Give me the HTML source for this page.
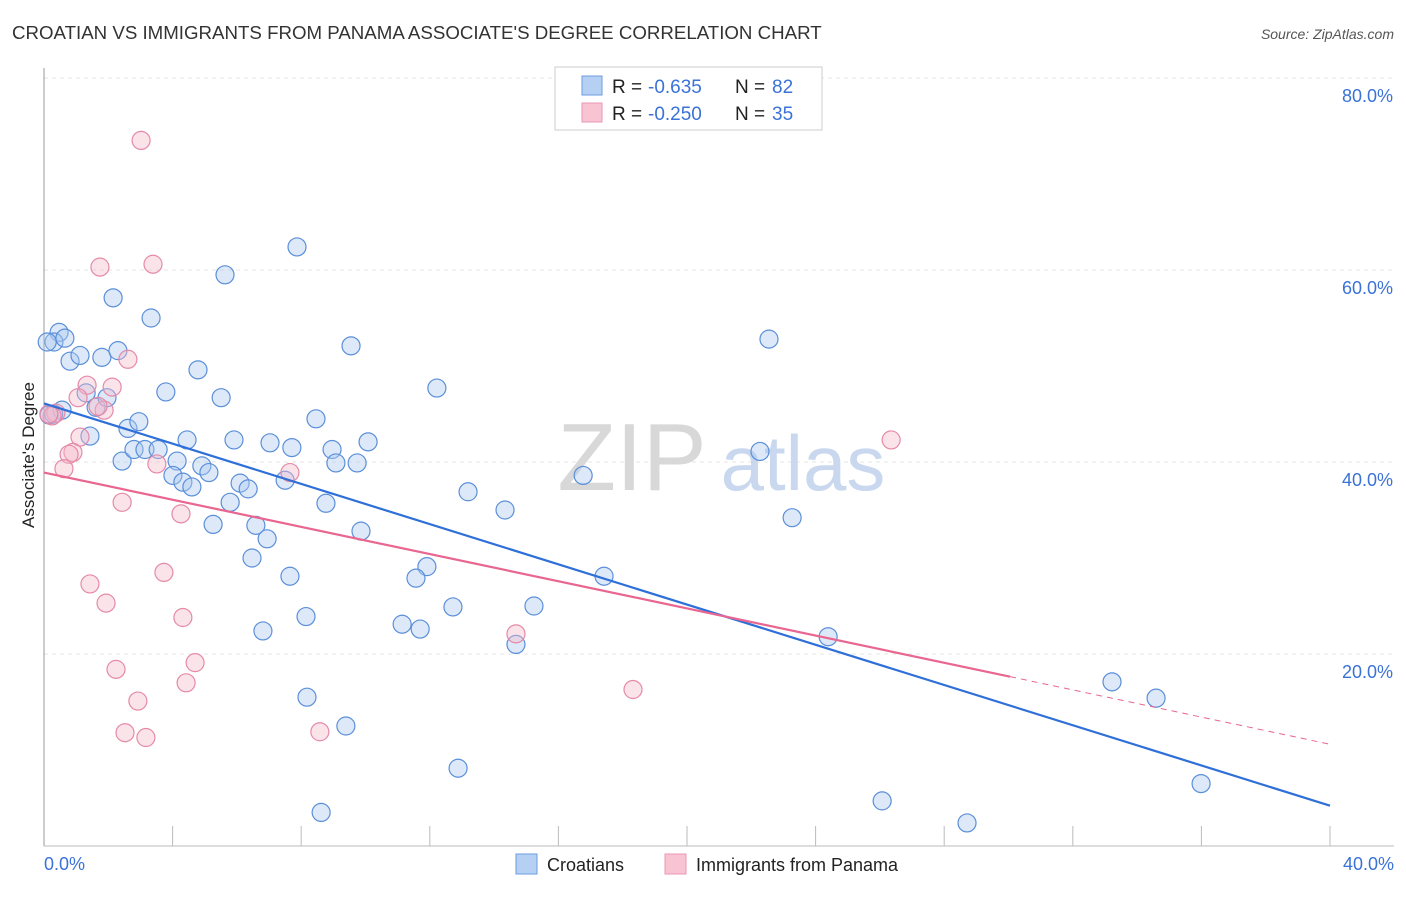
<!DOCTYPE html>
<html><head><meta charset="utf-8"><style>
body{margin:0;background:#fff;font-family:"Liberation Sans",sans-serif;}
svg text{font-family:"Liberation Sans",sans-serif;}
</style></head><body>
<svg id="chart" width="1406" height="892" xmlns="http://www.w3.org/2000/svg">
<text x="12" y="39" font-size="18.7" fill="#333">CROATIAN VS IMMIGRANTS FROM PANAMA ASSOCIATE'S DEGREE CORRELATION CHART</text>
<text x="1394" y="39" font-size="14" fill="#555" text-anchor="end" font-style="italic">Source: ZipAtlas.com</text>
<g id="grid"></g>
<text x="632" y="490" font-size="96" fill="#d8d8d8" text-anchor="middle" font-family="Liberation Serif">ZIP</text>
<text x="803" y="490" font-size="78" fill="#c9d8ee" text-anchor="middle">atlas</text>
<line x1="44" y1="68" x2="44" y2="846" stroke="#999"/>
<line x1="44" y1="846" x2="1394" y2="846" stroke="#bbb"/>
<g id="marks"></g>
<text transform="translate(34,455) rotate(-90)" font-size="17" fill="#222" text-anchor="middle">Associate's Degree</text>
<text x="44" y="870" font-size="18" fill="#3a72d8">0.0%</text>
<text x="1394" y="870" font-size="18" fill="#3a72d8" text-anchor="end">40.0%</text>
<g>
<rect x="555" y="67" width="267" height="63" fill="#fff" stroke="#ccc"/>
<rect x="582" y="76" width="20" height="19" fill="#b6d0f4" stroke="#6b9be0"/>
<rect x="582" y="103" width="20" height="19" fill="#f8c4d4" stroke="#ea97b2"/>
<text x="612" y="93" font-size="19" fill="#222">R = <tspan x="648" fill="#3a72d8">-0.635</tspan><tspan x="735">N = </tspan><tspan x="772" fill="#3a72d8">82</tspan></text>
<text x="612" y="120" font-size="19" fill="#222">R = <tspan x="648" fill="#3a72d8">-0.250</tspan><tspan x="735">N = </tspan><tspan x="772" fill="#3a72d8">35</tspan></text>
</g>
<g>
<rect x="516" y="854" width="21" height="20" fill="#b6d0f4" stroke="#6b9be0"/>
<text x="547" y="871" font-size="18" fill="#222">Croatians</text>
<rect x="665" y="854" width="21" height="20" fill="#f8c4d4" stroke="#ea97b2"/>
<text x="696" y="871" font-size="18" fill="#222">Immigrants from Panama</text>
</g>
</svg>
<script>
const blueX=[0.47,0.31,0.65,0.81,1.12,1.80,2.30,2.15,3.33,1.31,1.62,1.96,1.43,2.61,2.95,2.43,2.80,3.14,3.55,3.79,4.45,4.79,5.51,4.14,4.01,4.32,4.60,4.91,5.13,5.91,5.63,7.87,6.10,6.35,5.79,5.26,6.59,6.94,6.47,7.03,7.71,7.50,8.46,8.96,9.08,9.74,10.08,9.55,8.77,9.86,7.65,8.15,6.81,8.18,9.39,8.62,12.22,13.19,14.34,11.91,11.57,11.14,11.70,12.72,12.88,15.24,14.68,16.77,17.42,22.55,22.27,23.27,24.39,26.07,28.71,33.22,34.59,35.99,0.16,0.56,0.1,0.3];
const blueY=[53.5,52.5,52.9,50.5,51.1,50.9,51.6,57.1,55.0,47.2,45.7,46.7,42.7,43.5,44.2,40.1,41.3,41.3,41.3,47.3,42.3,49.6,46.7,40.1,38.6,37.9,37.4,39.6,38.9,42.3,59.5,62.4,37.8,37.2,35.8,33.5,33.4,32.0,30.0,42.0,41.5,38.1,44.5,41.3,39.9,39.9,42.1,52.1,35.7,32.8,28.1,23.9,22.4,15.5,12.5,3.5,47.7,36.9,35.0,29.1,27.9,23.1,22.6,24.9,8.1,25.0,21.0,38.6,28.1,52.8,41.1,34.2,21.8,4.7,2.4,17.1,15.4,6.5,44.9,45.4,52.5,45.0];
const pinkX=[3.02,1.74,3.39,2.61,2.12,1.34,1.06,1.87,1.68,0.37,1.12,0.90,0.78,0.62,3.51,2.43,4.26,3.73,1.43,1.93,4.32,4.70,2.24,4.42,2.92,2.52,3.17,7.65,8.58,14.68,18.32,26.35,0.25,0.15];
const pinkY=[73.5,60.3,60.6,50.7,47.8,48.0,46.7,45.4,45.8,45.1,42.6,41.0,40.8,39.3,39.8,35.8,34.6,28.5,27.3,25.3,23.8,19.1,18.4,17.0,15.1,11.8,11.3,38.9,11.9,22.1,16.3,42.3,44.8,45.0];
const blueTrend=[46.1,4.2];
const pinkTrend=[38.9,10.6];
const pinkSolidEnd=30.05;
const yTicks=[20,40,60,80];
const xTicks=[0,4,8,12,16,20,24,28,32,36,40];
const NS='http://www.w3.org/2000/svg';
const sx=v=>44+v*32.15, sy=v=>846-v*9.6;
const grid=document.getElementById('grid'), marks=document.getElementById('marks');
function mk(tag,attrs,parent){const e=document.createElementNS(NS,tag);for(const k in attrs)e.setAttribute(k,attrs[k]);parent.appendChild(e);return e;}
yTicks.forEach(t=>{
 const l=mk('line',{x1:44,x2:1394,y1:sy(t),y2:sy(t),stroke:'#e4e4e4','stroke-dasharray':'4,4'},grid);
 
 
 const tx=mk('text',{x:1393,y:sy(t)+24,'font-size':18,fill:'#3a72d8','text-anchor':'end'},grid);
 tx.textContent=t.toFixed(1)+'%';
 
 
});
xTicks.forEach(t=>{
 const l=mk('line',{x1:sx(t),x2:sx(t),y1:826,y2:846,stroke:'#bbb'},grid);
 
 
});
function dots(xs,ys,fill,stroke,name){
 xs.forEach((x,i)=>{
  const c=mk('circle',{cx:sx(x),cy:sy(ys[i]),r:9,fill:fill,'fill-opacity':0.4,stroke:stroke,'stroke-width':1.2},marks);
  
  
 });
}
dots(blueX,blueY,'#a9c7ef','#5b8fd9','croatians-point');
dots(pinkX,pinkY,'#f4b8cb','#e58aa8','panama-point');
const bl=mk('line',{x1:sx(0),y1:sy(blueTrend[0]),x2:sx(40),y2:sy(blueTrend[1]),stroke:'#2f6fd8','stroke-width':2.2},marks);


const pAt=x=>pinkTrend[0]+(pinkTrend[1]-pinkTrend[0])*x/40;
const pl=mk('line',{x1:sx(0),y1:sy(pinkTrend[0]),x2:sx(pinkSolidEnd),y2:sy(pAt(pinkSolidEnd)),stroke:'#e8668f','stroke-width':2.2},marks);


const pd=mk('line',{x1:sx(pinkSolidEnd),y1:sy(pAt(pinkSolidEnd)),x2:sx(40),y2:sy(pinkTrend[1]),stroke:'#e8668f','stroke-width':1,'stroke-dasharray':'6,5'},marks);


</script>
</body></html>
